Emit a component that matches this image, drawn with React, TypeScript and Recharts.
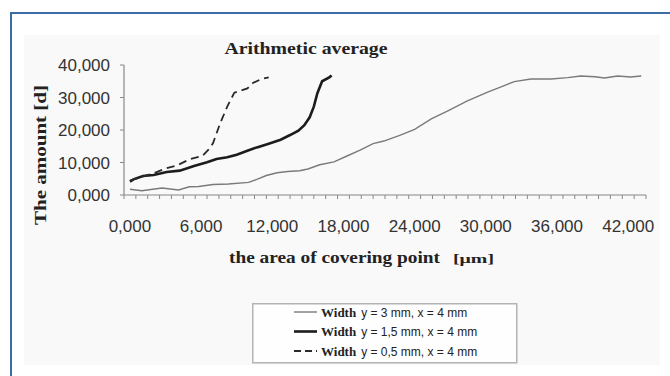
import React from 'react';
import { LineChart, Line, XAxis, YAxis, Legend } from 'recharts';

// ---- data ----
const xWide = [0, 1000, 2700, 4100, 5000, 5800, 7000, 8300, 10000, 10700, 11500, 12400, 13300, 14300, 15000, 16000, 17200, 18300, 19400, 20500, 21400, 22800, 24000, 25400, 26800, 28400, 30100, 31500, 32400, 33800, 35500, 36900, 38000, 39200, 40000, 41100, 42200, 43100];
const yWide = [1750, 1300, 2150, 1550, 2550, 2600, 3250, 3400, 3900, 4800, 6000, 6850, 7250, 7450, 8000, 9300, 10200, 12000, 13800, 15800, 16600, 18450, 20200, 23400, 25900, 28900, 31600, 33600, 34900, 35700, 35700, 36100, 36600, 36400, 36000, 36600, 36300, 36600];

const xMid = [0, 300, 1100, 2000, 3100, 4200, 5400, 6500, 7300, 8200, 9000, 9900, 10700, 11700, 12700, 13500, 14200, 14700, 15150, 15500, 15800, 16200, 16800, 17000];
const yMid = [4100, 4800, 5850, 6150, 7100, 7500, 8900, 10050, 11100, 11600, 12400, 13600, 14650, 15800, 17000, 18450, 19800, 21500, 23900, 27200, 31300, 35000, 36200, 36800];

const xNarrow = [0, 1000, 2000, 3000, 3900, 5100, 6100, 6600, 7000, 7600, 8200, 8800, 9300, 9900, 10400, 11100, 11700];
const yNarrow = [4400, 5650, 6650, 8200, 9000, 11100, 12000, 13850, 15900, 22000, 27200, 31500, 32100, 32800, 34550, 35700, 36200];

const seriesNames = ['y = 3 mm, x = 4 mm', 'y = 1,5 mm, x = 4 mm', 'y = 0,5 mm, x = 4 mm'];

const xTickValues = [0, 6000, 12000, 18000, 24000, 30000, 36000, 42000];
const xTickLabels = ['0,000', '6,000', '12,000', '18,000', '24,000', '30,000', '36,000', '42,000'];
const xMinorTicks = Array.from({ length: 45 }, (_, k) => -500 + 1000 * k);
const yTickValues = [0, 10000, 20000, 30000, 40000];
const yTickLabels = ['0,000', '10,000', '20,000', '30,000', '40,000'];

const toPoints = (xs: number[], ys: number[]) => xs.map((x, i) => ({ x, y: ys[i] }));
const wideData = toPoints(xWide, yWide);
const midData = toPoints(xMid, yMid);
const narrowData = toPoints(xNarrow, yNarrow);

const SERIF = '"Liberation Serif", "Times New Roman", serif';
const SANS = '"Liberation Sans", Arial, sans-serif';

const lineStyles = [
  { stroke: '#7a7a7a', width: 1.4, dash: undefined as string | undefined },
  { stroke: '#1c1c1c', width: 2.6, dash: undefined as string | undefined },
  { stroke: '#2a2a2a', width: 1.8, dash: '8 5' },
];

const XTick = (props: any) => {
  const { x, y, payload } = props;
  const v = payload.value;
  const axisY = y - 4;
  const idx = xTickValues.indexOf(v);
  if (idx >= 0) {
    return (
      <text x={x} y={axisY + 37} textAnchor="middle" fill="#333" fontSize={17} fontFamily={SANS}>
        {xTickLabels[idx]}
      </text>
    );
  }
  return <line x1={x} x2={x} y1={axisY} y2={axisY + 4} stroke="#888" strokeWidth={1} />;
};

const LegendBox = () => (
  <svg width={266} height={61} style={{ display: 'block' }}>
    <rect x={0.75} y={0.75} width={264} height={59} fill="#fefefe" stroke="#b4b4b4" strokeWidth={1.5} />
    {seriesNames.map((name, i) => {
      const cy = 9 + i * 19.5;
      const s = lineStyles[i];
      return (
        <g key={name}>
          <line x1={42} x2={65} y1={cy} y2={cy} stroke={s.stroke} strokeWidth={s.width} strokeDasharray={s.dash ? '7 4' : undefined} />
          <text x={69} y={cy + 4.5} fontSize={12} fill="#222">
            <tspan fontFamily={SERIF} fontWeight="bold" fontSize={13}>Width</tspan>
            <tspan fontFamily={SANS} dx={5}>{name}</tspan>
          </text>
        </g>
      );
    })}
  </svg>
);

export default function App() {
  return (
    <div style={{ position: 'absolute', left: 0, top: 0, width: 670, height: 376, background: '#ffffff', overflow: 'hidden' }}>
      <div style={{ position: 'absolute', left: 10, top: 12, right: -4, bottom: -4, borderLeft: '2px solid #3b6ca6', borderTop: '2px solid #3b6ca6' }} />
      <div style={{ position: 'absolute', left: 24, top: 35, width: 636, height: 330, background: '#f9f9f9' }} />
      <svg width={670} height={376} style={{ position: 'absolute', left: 0, top: 0 }}>
        <text x={306} y={54} textAnchor="middle" fontFamily={SERIF} fontWeight="bold" fontSize={17} fill="#222" textLength={163} lengthAdjust="spacingAndGlyphs">
          Arithmetic average
        </text>
      </svg>
      <div style={{ position: 'absolute', left: 0, top: 0 }}>
        <LineChart width={670} height={376} margin={{ top: 65, right: 24, bottom: 151, left: 0 }}>
          <XAxis
            type="number"
            dataKey="x"
            domain={[-500, 43500]}
            ticks={[...xMinorTicks, ...xTickValues].sort((a, b) => a - b)}
            interval={0}
            allowDataOverflow
            height={30}
            tickLine={false}
            tickSize={4}
            tickMargin={0}
            axisLine={{ stroke: '#888', strokeWidth: 1.2 }}
            tick={<XTick />}
            label={() => (
              <text y={263} fill="#222" fontFamily={SERIF} fontWeight="bold">
                <tspan x={229} fontSize={17} textLength={211} lengthAdjust="spacingAndGlyphs">the area of covering point</tspan>
                <tspan x={453} fontSize={13} textLength={41} lengthAdjust="spacingAndGlyphs">[μm]</tspan>
              </text>
            )}
          />
          <YAxis
            type="number"
            domain={[0, 40000]}
            ticks={yTickValues}
            interval={0}
            width={124}
            tickSize={4}
            tickMargin={10}
            tickLine={{ stroke: '#888' }}
            axisLine={{ stroke: '#888', strokeWidth: 1.2 }}
            tick={{ fill: '#333', fontSize: 17, fontFamily: SANS }}
            tickFormatter={(v: number) => yTickLabels[yTickValues.indexOf(v)]}
            label={() => (
              <text x={46} y={155} transform="rotate(-90 46 155)" textAnchor="middle" fill="#222" fontFamily={SERIF} fontWeight="bold" fontSize={17} textLength={140} lengthAdjust="spacingAndGlyphs">
                The amount [d]
              </text>
            )}
          />
          <Legend
            layout="vertical"
            align="center"
            verticalAlign="middle"
            content={() => <LegendBox />}
            wrapperStyle={{ position: 'absolute', left: 252, top: 303, width: 266, height: 61 }}
          />
          <Line data={wideData} dataKey="y" name={seriesNames[0]} type="linear" stroke={lineStyles[0].stroke} strokeWidth={lineStyles[0].width} dot={false} activeDot={false} isAnimationActive={false} />
          <Line data={midData} dataKey="y" name={seriesNames[1]} type="linear" stroke={lineStyles[1].stroke} strokeWidth={lineStyles[1].width} dot={false} activeDot={false} isAnimationActive={false} />
          <Line data={narrowData} dataKey="y" name={seriesNames[2]} type="linear" stroke={lineStyles[2].stroke} strokeWidth={lineStyles[2].width} strokeDasharray={lineStyles[2].dash} dot={false} activeDot={false} isAnimationActive={false} />
        </LineChart>
      </div>
    </div>
  );
}
